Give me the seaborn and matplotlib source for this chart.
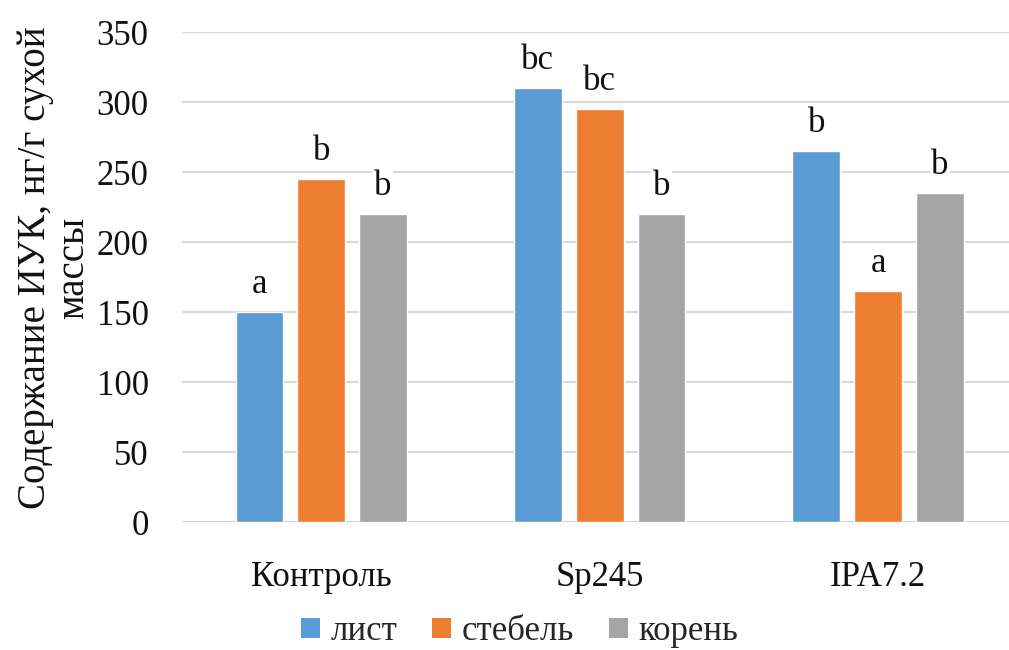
import numpy as np
import pandas as pd
import matplotlib
matplotlib.use("Agg")
import matplotlib.pyplot as plt
import seaborn as sns
from matplotlib.patches import Patch

# data
groups = ["Контроль", "Sp245", "IPA7.2"]
organs = ["лист", "стебель", "корень"]
leaf = [150, 310, 265]
stem = [245, 295, 165]
root = [220, 220, 235]
letters_leaf = ["a", "bc", "b"]
letters_stem = ["b", "bc", "a"]
letters_root = ["b", "b", "b"]
colors = ["#5B9BD5", "#ED7D31", "#A5A5A5"]

df = pd.DataFrame({
    "group": groups * 3,
    "organ": [o for o in organs for _ in groups],
    "value": leaf + stem + root,
    "letter": letters_leaf + letters_stem + letters_root,
})

sns.set_theme(style="white")
plt.rcParams["font.family"] = ["Liberation Serif", "DejaVu Serif"]

fig = plt.figure(figsize=(10.09, 6.5), dpi=100)
ax = fig.add_axes([0.1804, 0.1969, 0.8196, 0.7538])

sns.barplot(data=df, x="group", y="value", hue="organ", order=groups,
            hue_order=organs, palette=colors, width=0.667, gap=0.23,
            saturation=1, ax=ax, legend=False, zorder=3)

# significance letters above bars
for cont, org in zip(ax.containers, organs):
    sub = df[df["organ"] == org].set_index("group").loc[groups]
    for bar, letter in zip(cont, sub["letter"]):
        ax.annotate(letter, (bar.get_x() + bar.get_width() / 2, bar.get_height()),
                    xytext=(0, 8), textcoords="offset points",
                    ha="center", va="bottom", fontsize=25, color="#111111",
                    bbox=dict(facecolor="white", edgecolor="none", pad=1),
                    zorder=4)

ax.set_ylim(0, 350)
ax.set_xlim(-0.5, 2.47)
ax.set_yticks(np.arange(0, 351, 50))
ax.yaxis.grid(True, color="#D9D9D9", linewidth=1.5, zorder=0)
ax.set_axisbelow(True)
for s in ax.spines.values():
    s.set_visible(False)
ax.axhline(0, color="#D0D0D0", linewidth=1.5, zorder=2)
ax.tick_params(axis="y", length=0, pad=24, labelsize=25, labelcolor="#111111")
ax.tick_params(axis="x", length=0, pad=28, labelsize=25, labelcolor="#111111")
ax.set_xlabel("")
ax.set_ylabel("")

fig.text(0.054, 0.588, "Содержание ИУК, нг/г сухой\nмассы", rotation=90,
         ha="center", va="center", multialignment="center",
         fontsize=28, color="#111111", linespacing=1.05)

handles = [Patch(facecolor=c, edgecolor="none") for c in colors]
fig.legend(handles, organs, loc="center", bbox_to_anchor=(0.515, 0.028),
           ncol=3, frameon=False, fontsize=25, handlelength=0.55,
           handleheight=0.55, handletextpad=0.3, columnspacing=1.0)

fig.savefig("out.png", dpi=100)
